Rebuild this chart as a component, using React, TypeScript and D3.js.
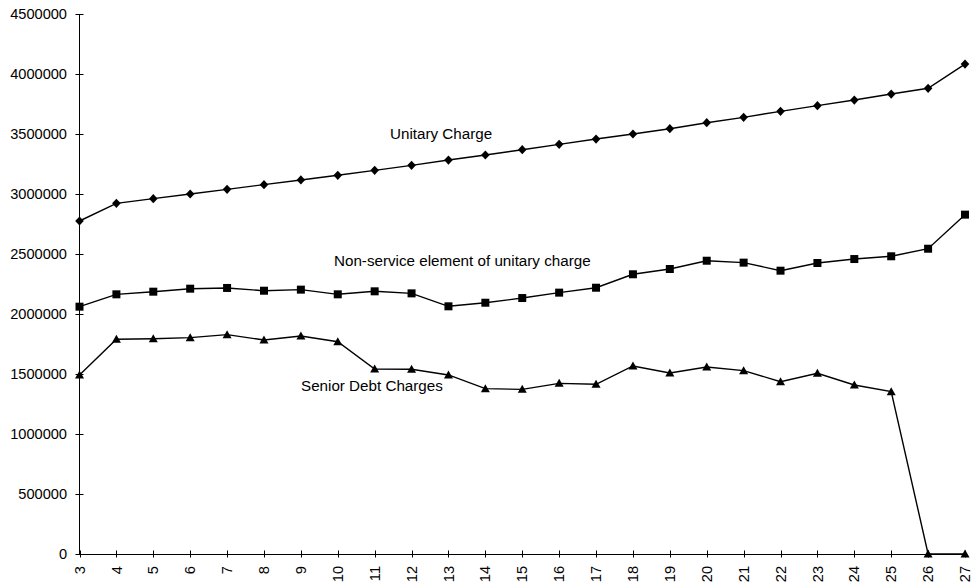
import React from "react";
import * as d3 from "d3";

const categories: number[] = [3,4,5,6,7,8,9,10,11,12,13,14,15,16,17,18,19,20,21,22,23,24,25,26,27];
const unitaryCharge: number[] = [2775000,2922000,2961000,3000000,3039000,3078000,3117000,3156000,3197000,3239000,3283000,3325000,3369000,3414000,3458000,3500000,3544000,3594000,3639000,3689000,3736000,3783000,3833000,3881000,4083000];
const nonService: number[] = [2061000,2164000,2186000,2211000,2217000,2194000,2203000,2164000,2189000,2172000,2064000,2094000,2133000,2178000,2219000,2331000,2375000,2444000,2428000,2361000,2425000,2458000,2481000,2544000,2828000];
const seniorDebt: number[] = [1492000,1789000,1794000,1803000,1828000,1783000,1817000,1769000,1542000,1539000,1492000,1378000,1372000,1422000,1414000,1567000,1508000,1558000,1528000,1436000,1506000,1408000,1353000,0,0];
const yTicks: number[] = [0,500000,1000000,1500000,2000000,2500000,3000000,3500000,4000000,4500000];
const seriesLabels: string[] = ["Unitary Charge", "Non-service element of unitary charge", "Senior Debt Charges"];

const W = 973, H = 588;
const FONT = "'Liberation Sans', Arial, sans-serif";

export default function App() {
  const x = d3.scalePoint<number>().domain(categories).range([79.5, 965]);
  const y = d3.scaleLinear().domain([0, 4500000]).range([554, 14]);
  const line = d3.line<number>().x((_, i) => x(categories[i]) as number).y((d) => y(d));

  const diamond = (cx: number, cy: number) => `M${cx},${cy - 4.6}L${cx + 4.3},${cy}L${cx},${cy + 4.6}L${cx - 4.3},${cy}Z`;
  const square = (cx: number, cy: number) => `M${cx - 4},${cy - 4}h8v8h-8Z`;
  const tri = (cx: number, cy: number) => `M${cx},${cy - 4.5}L${cx + 4.5},${cy + 3.5}L${cx - 4.5},${cy + 3.5}Z`;

  const series = [
    { data: unitaryCharge, marker: diamond },
    { data: nonService, marker: square },
    { data: seniorDebt, marker: tri },
  ];

  return (
    <svg width={W} height={H} style={{ position: "absolute", left: 0, top: 0, background: "#fff" }} fontFamily={FONT}>
      <line x1={79.5} x2={79.5} y1={14} y2={554} stroke="#000" strokeWidth={1} />
      {yTicks.map((t) => (
        <g key={t}>
          <line x1={75.5} x2={83.5} y1={Math.round(y(t)) + 0.5} y2={Math.round(y(t)) + 0.5} stroke="#000" />
          <text x={67} y={y(t)} dy="0.35em" textAnchor="end" fontSize={14.6} fill="#000">{t}</text>
        </g>
      ))}
      <line x1={79.5} x2={965} y1={554.5} y2={554.5} stroke="#000" />
      {categories.map((c) => (
        <g key={c}>
          <line x1={Math.round(x(c) as number) + 0.5} x2={Math.round(x(c) as number) + 0.5} y1={550.5} y2={557.5} stroke="#000" />
          <text transform={`translate(${x(c)},${566}) rotate(-90)`} dy="0.35em" textAnchor="end" fontSize={14.6} fill="#000">{c}</text>
        </g>
      ))}
      {series.map((s, si) => (
        <g key={si}>
          <path d={line(s.data) || ""} fill="none" stroke="#000" strokeWidth={1.4} />
          {s.data.map((v, i) => (
            <path key={i} d={s.marker(x(categories[i]) as number, y(v))} fill="#000" />
          ))}
        </g>
      ))}
      <text x={390} y={139} fontSize={15.2} fill="#000">{seriesLabels[0]}</text>
      <text x={334} y={266} fontSize={15.2} fill="#000">{seriesLabels[1]}</text>
      <text x={301} y={391} fontSize={15.2} fill="#000">{seriesLabels[2]}</text>
    </svg>
  );
}
